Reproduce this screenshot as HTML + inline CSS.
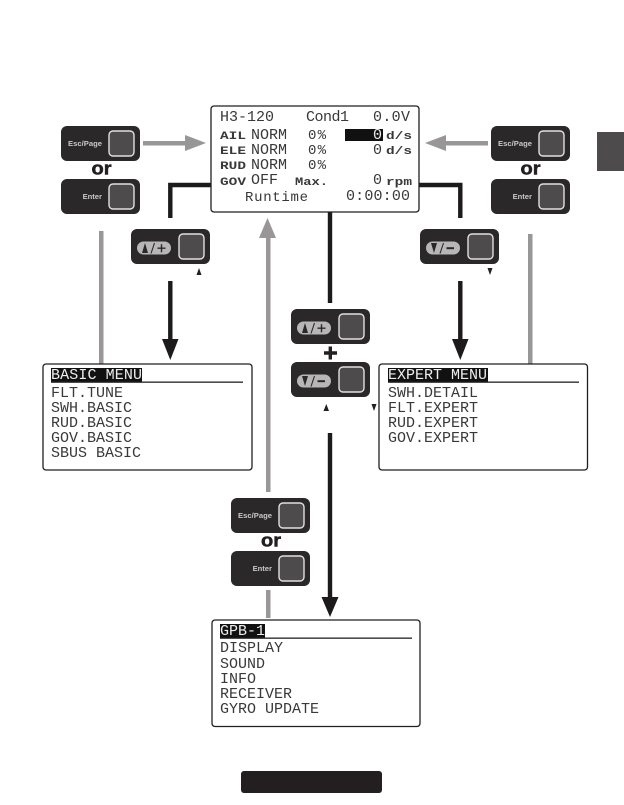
<!DOCTYPE html>
<html><head><meta charset="utf-8"><style>
html,body{margin:0;padding:0;background:#fff;width:624px;height:805px;overflow:hidden}
svg{display:block}
.b{fill:#2b2829}.s{fill:#4d4b4c;stroke:#e2e0df;stroke-width:1.4}
.k{font:bold 7.6px "Liberation Sans",sans-serif;fill:#c9c7c7}
.or{font:bold 18px "Liberation Sans",sans-serif;fill:#231f20;stroke:#231f20;stroke-width:.5}
.m{font:15px "Liberation Mono",monospace;fill:#3a3839}
.w{font:15px "Liberation Mono",monospace;fill:#eee}
.l{font:14px "Liberation Mono",monospace;fill:#3a3839}
.t{font:bold 11px "Liberation Mono",monospace;fill:#3a3839}
.box{fill:#fff;stroke:#231f20;stroke-width:1.3}
</style></head><body>
<svg width="624" height="805" viewBox="0 0 624 805" xmlns="http://www.w3.org/2000/svg">
<defs>
<g id="btn"><rect class="b" width="79" height="35" rx="6"/><rect class="s" x="48" y="5" width="25" height="25" rx="4"/></g>
<g id="pu"><rect x="6" y="12.500" width="34" height="13" rx="6.500" fill="#b8b6b6"/><path d="M11 24L14 14L17 24Z" fill="#2b2829"/><path d="M20 24.500L23.500 14" stroke="#2b2829" stroke-width="1.100"/><path d="M26.500 19.200H34.500M30.500 15.200V23.200" stroke="#2b2829" stroke-width="1.400"/></g>
<g id="pd"><rect x="6" y="12.500" width="34" height="13" rx="6.500" fill="#b8b6b6"/><path d="M11 14L14 24L17 14Z" fill="#2b2829"/><path d="M20 24.500L23.500 14" stroke="#2b2829" stroke-width="1.100"/><path d="M26.500 19.200H34" stroke="#2b2829" stroke-width="2"/></g>
</defs>

<!-- gray side tab -->
<rect x="597" y="132" width="27" height="39" fill="#4d4b4c"/>
<rect x="241" y="771" width="141" height="22" rx="3" fill="#231f20"/>

<!-- gray connectors -->
<g fill="#989697">
<rect x="143" y="141" width="43" height="4.500"/><path d="M185 135L206 143L185 151Z"/>
<rect x="445" y="141" width="43" height="4.500"/><path d="M446 135L425 143L446 151Z"/>
<rect x="99" y="231" width="4.500" height="133"/>
<rect x="528" y="234" width="4.500" height="130"/>
<rect x="266" y="236" width="4.500" height="256"/><path d="M259 238L267.500 218L276 238Z"/>
<rect x="266" y="590" width="4.500" height="28"/>
</g>

<!-- black connectors -->
<g fill="none" stroke="#1d1a1b" stroke-width="4.400">
<path d="M211 185H170.300V218"/>
<path d="M419 185H460.300V218"/>
<path d="M170.300 281V342"/>
<path d="M460.300 281V342"/>
<path d="M330 212V303"/>
<path d="M330 433V600"/>
</g>
<g fill="#1d1a1b">
<path d="M162 339H178.500L170.300 360Z"/>
<path d="M452 339H468.500L460.300 360Z"/>
<path d="M321.500 597H338.500L330 617Z"/>
</g>

<!-- buttons -->
<use href="#btn" x="61" y="126"/><use href="#btn" x="61" y="179"/>
<use href="#btn" x="491" y="126"/><use href="#btn" x="491" y="179"/>
<use href="#btn" x="231" y="498"/><use href="#btn" x="231" y="551"/>
<use href="#btn" x="131" y="229"/><use href="#btn" x="420" y="229"/>
<use href="#btn" x="291" y="309"/><use href="#btn" x="291" y="362"/>
<use href="#pu" x="131" y="229"/><use href="#pd" x="420" y="229"/>
<use href="#pu" x="291" y="309"/><use href="#pd" x="291" y="362"/>

<text class="k" x="68" y="146" textLength="34" lengthAdjust="spacingAndGlyphs">Esc/Page</text>
<text class="k" x="102" y="199" text-anchor="end">Enter</text>
<text class="k" x="498" y="146" textLength="34" lengthAdjust="spacingAndGlyphs">Esc/Page</text>
<text class="k" x="532" y="199" text-anchor="end">Enter</text>
<text class="k" x="238" y="518" textLength="34" lengthAdjust="spacingAndGlyphs">Esc/Page</text>
<text class="k" x="272" y="571" text-anchor="end">Enter</text>

<text class="or" x="91.500" y="174.500" textLength="20" lengthAdjust="spacingAndGlyphs">or</text>
<text class="or" x="520.500" y="174.500" textLength="20" lengthAdjust="spacingAndGlyphs">or</text>
<text class="or" x="261" y="546.500" textLength="20" lengthAdjust="spacingAndGlyphs">or</text>

<!-- plus -->
<path d="M324 353H337M330.300 346.500V359.500" stroke="#231f20" stroke-width="3.400" fill="none"/>

<!-- small triangles -->
<g fill="#231f20">
<path d="M196.500 275L199 268L201.500 275Z"/>
<path d="M487.500 268L490 275L492.500 268Z"/>
<path d="M323.500 411L326.300 404L329 411Z"/>
<path d="M371.500 404L374 411L376.500 404Z"/>
</g>

<!-- main LCD -->
<rect class="box" x="211" y="106" width="208" height="106" rx="3"/>
<rect x="345" y="129" width="38" height="12" fill="#111"/>
<g transform="translate(0,-.8)">
<text class="m" x="220" y="122" textLength="54">H3-120</text>
<text class="m" x="306" y="122" textLength="43">Cond1</text>
<text class="m" x="373" y="122" textLength="37">0.0V</text>
<text class="t" x="220" y="140" textLength="26" lengthAdjust="spacingAndGlyphs">AIL</text>
<text class="t" x="220" y="155" textLength="26" lengthAdjust="spacingAndGlyphs">ELE</text>
<text class="t" x="220" y="170" textLength="26" lengthAdjust="spacingAndGlyphs">RUD</text>
<text class="t" x="220" y="186" textLength="26" lengthAdjust="spacingAndGlyphs">GOV</text>
<text class="m" x="251" y="140" textLength="36">NORM</text>
<text class="m" x="251" y="155" textLength="36">NORM</text>
<text class="m" x="251" y="170" textLength="36">NORM</text>
<text class="m" x="251" y="185" textLength="27">OFF</text>
<text class="l" x="308" y="140" textLength="18">0%</text>
<text class="l" x="308" y="155" textLength="18">0%</text>
<text class="l" x="308" y="170" textLength="18">0%</text>
<text class="w" x="373" y="140">0</text>
<text class="m" x="373" y="155">0</text>
<text class="m" x="373" y="185">0</text>
<text class="t" x="386" y="140" textLength="26" lengthAdjust="spacingAndGlyphs">d/s</text>
<text class="t" x="386" y="155" textLength="26" lengthAdjust="spacingAndGlyphs">d/s</text>
<text class="t" x="386" y="186" textLength="26" lengthAdjust="spacingAndGlyphs">rpm</text>
<text class="t" x="295" y="186" textLength="33" lengthAdjust="spacingAndGlyphs">Max.</text>
<text class="l" x="245" y="202" textLength="63">Runtime</text>
<text class="m" x="346" y="201" textLength="64">0:00:00</text>
</g>

<!-- BASIC MENU -->
<rect class="box" x="43" y="364" width="209" height="106" rx="3"/>
<rect x="51" y="368" width="91" height="14" fill="#111"/>
<rect x="51" y="381.500" width="192" height="1.300" fill="#231f20"/>
<g transform="translate(0,-.8)">
<text class="w" x="51" y="380" textLength="91">BASIC MENU</text>
<text class="m" x="51" y="398" textLength="72">FLT.TUNE</text>
<text class="m" x="51" y="413" textLength="81">SWH.BASIC</text>
<text class="m" x="51" y="428" textLength="81">RUD.BASIC</text>
<text class="m" x="51" y="443" textLength="81">GOV.BASIC</text>
<text class="m" x="51" y="458" textLength="90">SBUS BASIC</text>
</g>

<!-- EXPERT MENU -->
<rect class="box" x="379" y="364" width="208.500" height="106" rx="3"/>
<rect x="388" y="368" width="100" height="14" fill="#111"/>
<rect x="388" y="381.500" width="191" height="1.300" fill="#231f20"/>
<g transform="translate(0,-.8)">
<text class="w" x="388" y="380" textLength="99">EXPERT MENU</text>
<text class="m" x="388" y="398" textLength="90">SWH.DETAIL</text>
<text class="m" x="388" y="413" textLength="90">FLT.EXPERT</text>
<text class="m" x="388" y="428" textLength="90">RUD.EXPERT</text>
<text class="m" x="388" y="443" textLength="90">GOV.EXPERT</text>
</g>

<!-- GPB-1 -->
<rect class="box" x="212" y="620" width="208" height="106.500" rx="3"/>
<rect x="220" y="624" width="45" height="14" fill="#111"/>
<rect x="220" y="637.500" width="192" height="1.300" fill="#231f20"/>
<g transform="translate(0,-.8)">
<text class="w" x="220" y="636" textLength="45">GPB-1</text>
<text class="m" x="220" y="653" textLength="63">DISPLAY</text>
<text class="m" x="220" y="669" textLength="45">SOUND</text>
<text class="m" x="220" y="684" textLength="36">INFO</text>
<text class="m" x="220" y="699" textLength="72">RECEIVER</text>
<text class="m" x="220" y="714" textLength="99">GYRO UPDATE</text>
</g>
</svg>
</body></html>
